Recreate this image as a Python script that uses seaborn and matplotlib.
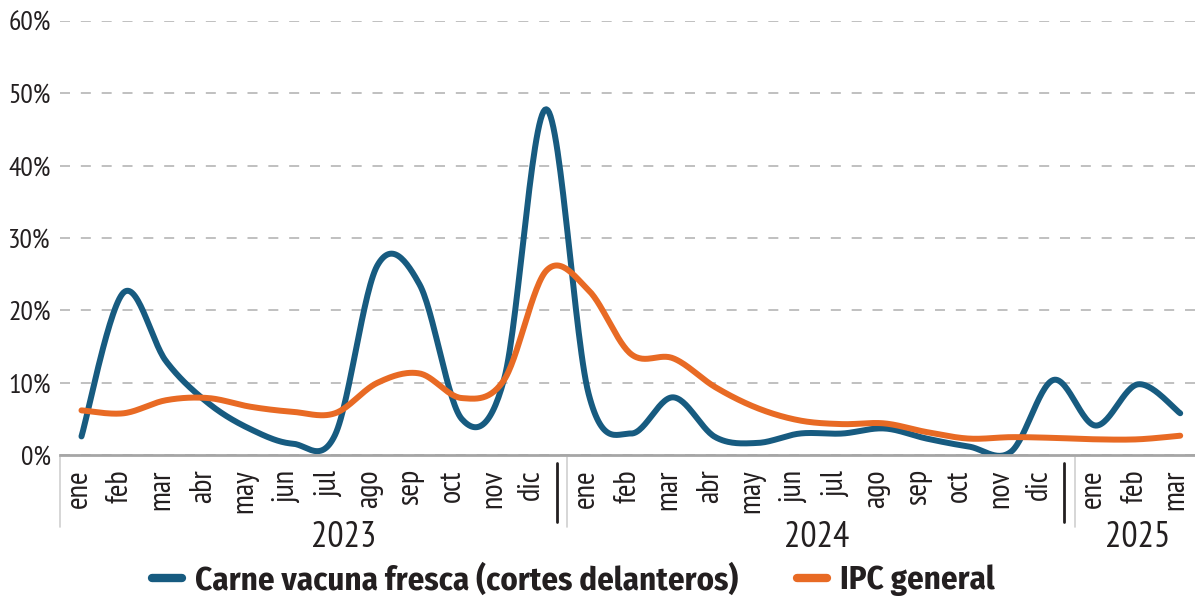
import numpy as np
import pandas as pd
import matplotlib
matplotlib.use("Agg")
import matplotlib.pyplot as plt
import seaborn as sns
from matplotlib.transforms import blended_transform_factory, ScaledTranslation

# ========== Datos (variacion mensual, %) ==========
meses = ["ene", "feb", "mar", "abr", "may", "jun", "jul", "ago", "sep", "oct", "nov", "dic"] * 2 \
    + ["ene", "feb", "mar"]
anios = ["2023", "2024", "2025"]
meses_por_anio = [12, 12, 3]

carne = [2.6, 22.5, 13.0, 7.2, 3.6, 1.6, 2.8, 26.2, 23.6, 5.0, 10.5, 47.8,
         8.5, 3.0, 8.0, 2.5, 1.7, 3.0, 3.0, 3.7, 2.3, 1.2, 0.5, 10.4, 4.1, 9.8, 5.8]
ipc = [6.2, 5.8, 7.6, 7.9, 6.7, 6.0, 5.8, 10.0, 11.3, 7.9, 10.4, 25.5,
       22.8, 14.0, 13.4, 9.4, 6.5, 4.8, 4.3, 4.4, 3.2, 2.3, 2.5, 2.4, 2.2, 2.2, 2.7]

series = {"Carne vacuna fresca (cortes delanteros)": carne, "IPC general": ipc}
colores = ["#175b80", "#e86a24"]


# linea suavizada tipo Excel (bezier catmull-rom)
def suavizar(y, n=30):
    y = np.asarray(y, dtype=float)
    x = np.arange(len(y), dtype=float)
    xs, ys = [], []
    for i in range(len(y) - 1):
        i0, i2 = max(i - 1, 0), min(i + 2, len(y) - 1)
        p0 = np.array([x[i], y[i]])
        p3 = np.array([x[i + 1], y[i + 1]])
        c1 = p0 + (np.array([x[i + 1], y[i + 1]]) - np.array([x[i0], y[i0]])) / 6
        c2 = p3 - (np.array([x[i2], y[i2]]) - np.array([x[i], y[i]])) / 6
        t = np.linspace(0, 1, n, endpoint=False)[:, None]
        pts = (1 - t) ** 3 * p0 + 3 * (1 - t) ** 2 * t * c1 + 3 * (1 - t) * t ** 2 * c2 + t ** 3 * p3
        xs.extend(pts[:, 0]); ys.extend(pts[:, 1])
    xs.append(x[-1]); ys.append(y[-1])
    return xs, ys


frames = []
for nombre, vals in series.items():
    xs, ys = suavizar(vals)
    frames.append(pd.DataFrame({"x": xs, "valor": ys, "serie": nombre}))
df = pd.concat(frames, ignore_index=True)

# ========== Grafico ==========
sns.set_theme(style="white")
plt.rcParams["font.family"] = ["PT Sans Narrow", "DejaVu Sans"]
plt.rcParams["text.color"] = "#231f20"

fig = plt.figure(figsize=(11.95, 5.99), dpi=100)
ax = fig.add_axes([0.0505, 0.240, 0.9495, 0.725])

sns.lineplot(data=df, x="x", y="valor", hue="serie", palette=colores, linewidth=4.3,
             sort=False, estimator=None, ax=ax, legend=True)
for ln in ax.lines:
    ln.set_solid_capstyle("round")

ax.set_xlim(-0.5, 26.35)
ax.set_ylim(0, 60)
ax.set_yticks(range(0, 61, 10))
ax.set_yticklabels([f"{v}%" for v in range(0, 61, 10)], fontsize=20, color="#231f20")
ax.yaxis.grid(True, linestyle=(0, (6, 6.5)), color="#b5b5b5", linewidth=1.2)
ax.tick_params(axis="y", length=0, pad=7)
ax.set_xticks(range(len(meses)))
ax.set_xticklabels(meses, rotation=90, fontsize=22, color="#231f20", va="top")
ax.tick_params(axis="x", length=0, pad=10)
# etiquetas algo comprimidas dentro de cada anio; "dic" deja lugar al separador
for i, lab in enumerate(ax.get_xticklabels()):
    k = i % 12
    dx = -15 if meses[i] == "dic" else -3 - 0.75 * k
    lab.set_transform(lab.get_transform() + ScaledTranslation(dx / 100, 0, fig.dpi_scale_trans))
ax.set_xlabel("")
ax.set_ylabel("")
for s in ["top", "right", "left"]:
    ax.spines[s].set_visible(False)
ax.spines["bottom"].set_color("#a6a6a6")
ax.spines["bottom"].set_linewidth(2)

# etiquetas de anio y separadores
tr = blended_transform_factory(ax.transData, ax.transAxes)
pos_anio = [6.2, 17.4, 25.0]
inicio = 0
for anio, n, xa in zip(anios, meses_por_anio, pos_anio):
    ax.text(xa, -0.19, anio, transform=tr, ha="center", va="center", fontsize=26)
    ax.plot([inicio - 0.5, inicio - 0.5], [-0.005, -0.166], transform=tr, color="#d0d0d0",
            lw=1.2, clip_on=False)
    if inicio > 0:
        ax.plot([inicio - 0.74, inicio - 0.74], [-0.018, -0.154], transform=tr, color="#231f20",
                lw=2, clip_on=False)
    inicio += n

# leyenda
handles, labels = ax.get_legend_handles_labels()
ax.get_legend().remove()
leg = fig.legend(handles, labels, loc="center", bbox_to_anchor=(0.48, 0.032), ncol=2,
                 frameon=False, prop={"family": "Fira Sans Condensed", "size": 23.6, "weight": "bold"},
                 handlelength=0.9, columnspacing=1.8, handletextpad=0.4)
for h in leg.legend_handles:
    h.set_linewidth(6)

fig.savefig("out.png", dpi=100)
